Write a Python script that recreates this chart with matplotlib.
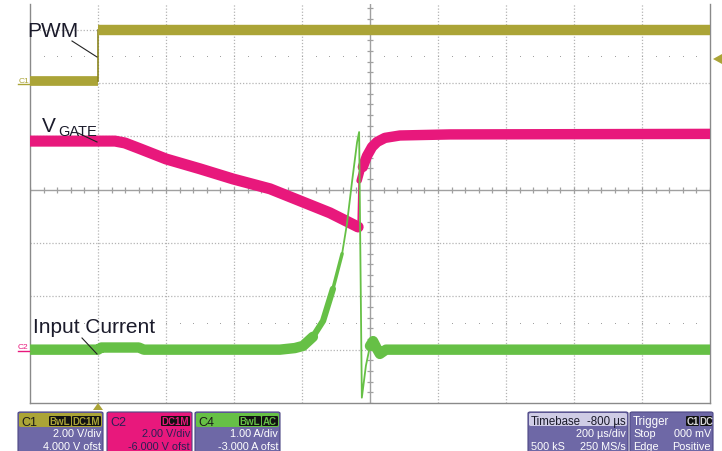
import matplotlib
matplotlib.use("Agg")
import matplotlib.pyplot as plt
import numpy as np
from matplotlib.patches import FancyBboxPatch, Polygon
from matplotlib.lines import Line2D

plt.rcParams['font.family'] = ['Liberation Sans', 'DejaVu Sans']

# --- scope settings (from the readouts) ---
c1_scale, c1_ofst = 2.0, 4.0      # V/div, V
c2_scale, c2_ofst = 2.0, -6.0
c4_scale, c4_ofst = 1.0, -3.0     # A/div, A
t_div = 200                       # us/div

# --- traces (time in us from trigger) ---
pwm_t = [-200, 0, 0, 1800]
pwm_v = [0.08, 0.08, 2.0, 2.0]

gate_t = [-200, 50, 79, 124, 200, 300, 397, 506, 594, 682, 765,
          768, 779, 791, 806, 821, 844, 888, 1035, 1800]
gate_v = [7.82, 7.82, 7.75, 7.53, 7.15, 6.78, 6.40, 6.03, 5.58, 5.13, 4.60,
          6.33, 6.85, 7.26, 7.60, 7.79, 7.94, 8.03, 8.07, 8.09]

cur_t = [-200, 0, 10, 120, 135, 535, 579, 603, 632, 662, 691, 718, 732,
         747, 762, 768, 776, 788, 800, 809, 821, 829, 847, 1800]
cur_i = [0.0, 0.0, 0.04, 0.04, 0.0, 0.0, 0.03, 0.07, 0.24, 0.54, 1.14, 1.80, 2.35,
         3.14, 3.89, 4.08, -0.90, -0.30, 0.07, 0.16, 0.01, -0.08, 0.0, 0.0]

olive = '#aba437'
olive_d = '#8c8620'
mag = '#e8187c'
green = '#66c046'
purple = '#6e68a6'

W, H = 722, 452
fig = plt.figure(figsize=(W / 100, H / 100), dpi=100)
ax = fig.add_axes([30 / W, 48 / H, 680 / W, 399 / H])
ax.set_xlim(-200, 1800)
ax.set_ylim(-4, 3.48)
ax.set_xticks([])
ax.set_yticks([])
for s in ['left', 'right', 'bottom']:
    ax.spines[s].set_color('#8a8a8a')
    ax.spines[s].set_linewidth(1.0)
ax.spines['top'].set_visible(False)

# graticule
gcol = '#b4b4b4'
for k in range(1, 10):
    x = -200 + k * t_div
    if k == 5:
        ax.axvline(x, color='#a0a0a0', lw=1.0, zorder=1)
    else:
        ax.axvline(x, color=gcol, lw=0.9, ls=(0, (1, 1.5)), zorder=1)
for k in range(-3, 4):
    if k == 0:
        ax.axhline(0, color='#a0a0a0', lw=1.0, zorder=1)
    else:
        ax.axhline(k, color=gcol, lw=0.9, ls=(0, (1, 1.5)), zorder=1)
# minor ticks on the centre cross
xm = np.arange(-200, 1800.1, t_div / 5)
ym = np.arange(-4, 3.5, 0.2)
ax.plot(xm, np.zeros_like(xm), ls='none', marker='|', ms=5, mew=0.9, color='#a0a0a0', zorder=1)
ax.plot(np.full_like(ym, 800), ym, ls='none', marker='_', ms=5, mew=0.9, color='#a0a0a0', zorder=1)
for yy in (2.5, -2.5):
    ax.plot(xm, np.full_like(xm, yy), ls='none', marker='s', ms=0.7, mew=0, color='#a0a0a0', zorder=1)

pwm_d = [(v + c1_ofst) / c1_scale for v in pwm_v]
gate_d = [(v + c2_ofst) / c2_scale for v in gate_v]
cur_d = [(i + c4_ofst) / c4_scale for i in cur_i]

rnd = dict(solid_capstyle='round', solid_joinstyle='round')

# VGATE (C2)
ax.plot(gate_t[:11], gate_d[:11], color=mag, lw=8.0, zorder=3, **rnd)
ax.plot(gate_t[10:12], gate_d[10:12], color=mag, lw=1.2, zorder=3)
ax.plot(gate_t[11:13], gate_d[11:13], color=mag, lw=4.0, zorder=3, **rnd)
ax.plot(gate_t[12:], gate_d[12:], color=mag, lw=7.5, zorder=3, **rnd)

# input current (C4)
ax.plot(cur_t[:9], cur_d[:9], color=green, lw=7.5, zorder=4, **rnd)
ax.plot(cur_t[8:11], cur_d[8:11], color=green, lw=4.5, zorder=4, **rnd)
ax.plot(cur_t[10:12], cur_d[10:12], color=green, lw=2.5, zorder=4, **rnd)
ax.plot(cur_t[11:19], cur_d[11:19], color=green, lw=1.3, zorder=4)
ax.plot(cur_t[18:], cur_d[18:], color=green, lw=7.5, zorder=4, **rnd)

# PWM (C1)
ax.plot(pwm_t[:2], pwm_d[:2], color=olive, lw=7.0, solid_capstyle='butt', zorder=5)
ax.plot(pwm_t[1:3], pwm_d[1:3], color=olive_d, lw=1.2, zorder=5)
ax.plot(pwm_t[2:], pwm_d[2:], color=olive, lw=7.5, solid_capstyle='butt', zorder=5)


def P(x, y):
    return x / W, 1 - y / H

tf = fig.transFigure
txt = '#1b1b2b'
fig.text(*P(27, 37), 'PWM', fontsize=15, color=txt, va='baseline')
fig.add_artist(Line2D(*zip(P(72, 42), P(97, 58)), transform=tf, color='#222222', lw=0.8))
fig.text(*P(42, 132), 'V', fontsize=15, color=txt, va='baseline')
fig.text(*P(58, 136), 'GATE', fontsize=10.5, color=txt, va='baseline')
fig.add_artist(Line2D(*zip(P(78, 134), P(97, 143)), transform=tf, color='#222222', lw=0.8))
fig.text(*P(33, 333), 'Input Current', fontsize=15, color=txt, va='baseline')
fig.add_artist(Line2D(*zip(P(82, 339), P(97, 355)), transform=tf, color='#222222', lw=0.8))

# channel markers
fig.text(*P(19, 83), 'C1', fontsize=6, color=olive, va='baseline')
fig.add_artist(Line2D(*zip(P(18, 85), P(29, 85)), transform=tf, color=olive, lw=1))
fig.text(*P(18, 349), 'C2', fontsize=6, color=mag, va='baseline')
fig.add_artist(Line2D(*zip(P(18, 352), P(29, 352)), transform=tf, color=mag, lw=1))
fig.add_artist(Polygon([P(93, 411), P(103, 411), P(98, 404)], closed=True, transform=tf,
                       fc=olive, ec='none'))
fig.add_artist(Polygon([P(722, 55), P(722, 65), P(713, 60)], closed=True, transform=tf,
                       fc=olive, ec='none'))


def rect(x0, y0, x1, y1, fc, ec='none', r=0.003):
    fig.add_artist(FancyBboxPatch(P(x0, y1), (x1 - x0) / W, (y1 - y0) / H,
                                  boxstyle='round,pad=0,rounding_size=%g' % r,
                                  transform=tf, fc=fc, ec=ec, lw=0.8))


def badge(x0, x1, label, col):
    rect(x0, 417, x1, 427, '#111111', r=0.002)
    fig.text(*P((x0 + x1) / 2, 422.5), label, fontsize=7, color=col,
             ha='center', va='center', fontweight='bold')


def chan_box(x0, x1, name, head, body, tcol, hcol, badges, lines):
    rect(x0, 413, x1, 455, body, ec='#4c4784')
    rect(x0 + 1, 414, x1 - 1, 428, head)
    fig.text(*P(x0 + 3, 426), name, fontsize=9, color=hcol, va='baseline')
    for bx0, bx1, lab, bcol in badges:
        badge(bx0, bx1, lab, bcol)
    for k, s in enumerate(lines):
        fig.text(*P(x1 - 2, 437 + 13 * k), s, fontsize=7.8, color=tcol,
                 ha='right', va='baseline')


chan_box(18, 103, 'C1', olive, purple, 'white', '#1a1a1a',
         [(49, 71, 'BwL', olive), (72, 101, 'DC1M', olive)],
         ['2.00 V/div', '4.000 V ofst'])
chan_box(107, 192, 'C2', mag, mag, '#2a1f55', '#2a1f55',
         [(161, 190, 'DC1M', mag)],
         ['2.00 V/div', '-6.000 V ofst'])
chan_box(195, 280, 'C4', green, purple, 'white', '#1a1a1a',
         [(239, 261, 'BwL', green), (262, 278, 'AC', green)],
         ['1.00 A/div', '-3.000 A ofst'])

# timebase box
rect(528, 413, 628, 455, purple, ec='#4c4784')
rect(529, 414, 627, 427, '#cfcce5')
fig.text(*P(531, 425), 'Timebase', fontsize=8.3, color='#1a1a2a', va='baseline')
fig.text(*P(626, 425), '-800 µs', fontsize=8.3, color='#1a1a2a', va='baseline', ha='right')
fig.text(*P(626, 437), '200 µs/div', fontsize=7.8, color='white', va='baseline', ha='right')
fig.text(*P(531, 450), '500 kS', fontsize=7.8, color='white', va='baseline')
fig.text(*P(626, 450), '250 MS/s', fontsize=7.8, color='white', va='baseline', ha='right')

# trigger box
rect(630, 413, 713, 455, purple, ec='#4c4784')
fig.text(*P(633, 425), 'Trigger', fontsize=8.3, color='white', va='baseline')
badge(686, 699, 'C1', '#d8d8d8')
badge(700, 712, 'DC', '#d8d8d8')
fig.text(*P(633, 437), 'Stop', fontsize=7.8, color='white', va='baseline')
fig.text(*P(711, 437), '000 mV', fontsize=7.8, color='white', va='baseline', ha='right')
fig.text(*P(633, 450), 'Edge', fontsize=7.8, color='white', va='baseline')
fig.text(*P(711, 450), 'Positive', fontsize=7.8, color='white', va='baseline', ha='right')

fig.savefig('out.png', dpi=100)
